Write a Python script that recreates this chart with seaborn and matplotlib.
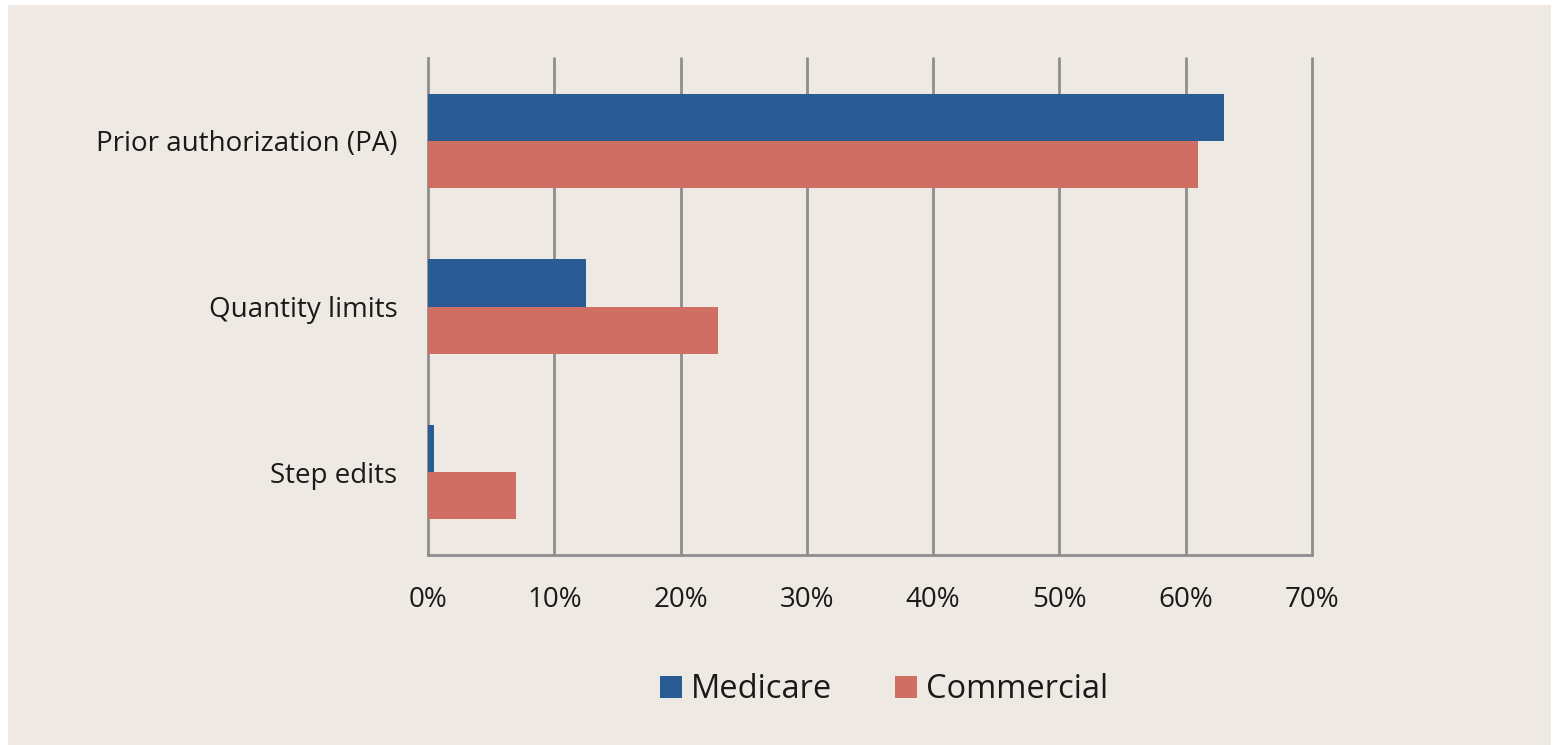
import matplotlib
matplotlib.use("Agg")
import matplotlib.pyplot as plt
import seaborn as sns
import pandas as pd
from matplotlib.patches import Rectangle
from matplotlib.ticker import FuncFormatter

categories = ["Prior authorization (PA)", "Quantity limits", "Step edits"]
series = ["Medicare", "Commercial"]
medicare = [63, 12.5, 0.5]
commercial = [61, 23, 7]
xticks = [0, 10, 20, 30, 40, 50, 60, 70]

colors = {"Medicare": "#2A5B94", "Commercial": "#CF6F64"}
bg = "#EFE9E3"
gridc = "#8E8E8E"

df = pd.DataFrame({
    "category": categories * 2,
    "series": ["Medicare"] * 3 + ["Commercial"] * 3,
    "value": medicare + commercial,
})

sns.set_theme(style="white")
plt.rcParams["font.family"] = ["Open Sans", "DejaVu Sans"]

fig = plt.figure(figsize=(15.53, 7.45), dpi=100, facecolor="white")
fig.patches.append(Rectangle((8 / 1553, 0), 1 - 10 / 1553, 1 - 5 / 745,
                             transform=fig.transFigure, facecolor=bg,
                             edgecolor="none", zorder=-10))
ax = fig.add_axes([428 / 1553, 1 - 555 / 745, 884 / 1553, 497 / 745])
ax.set_facecolor(bg)

sns.barplot(data=df, y="category", x="value", hue="series", order=categories,
            hue_order=series, palette=colors, orient="h", width=0.57,
            saturation=1, ax=ax, legend=True, zorder=3, linewidth=0)

ax.set_xlim(0, 70)
ax.set_ylim(2.5, -0.5)
ax.set_xticks(xticks)
ax.xaxis.set_major_formatter(FuncFormatter(lambda v, p: f"{int(v)}%"))
ax.grid(False)
for t in xticks[1:]:
    ax.axvline(t, color=gridc, linewidth=2, zorder=0, clip_on=False)
ax.set_axisbelow(True)
for s in ["top", "right"]:
    ax.spines[s].set_visible(False)
for s in ["left", "bottom"]:
    ax.spines[s].set_color(gridc)
    ax.spines[s].set_linewidth(2)
ax.tick_params(axis="x", length=0, pad=22, labelsize=20, colors="#1A1A1A")
ax.tick_params(axis="y", length=0, pad=22, labelsize=20, colors="#1A1A1A")
ax.set_xlabel("")
ax.set_ylabel("")

leg = ax.legend(loc="center", bbox_to_anchor=(884 / 1553, 1 - 690 / 745),
                bbox_transform=fig.transFigure, ncol=2, frameon=False,
                fontsize=23.5, handlelength=0.68, handleheight=0.68,
                handletextpad=0.28, columnspacing=1.9)
for h in leg.legend_handles:
    h.set_linewidth(0)
for t in leg.get_texts():
    t.set_color("#1A1A1A")

fig.savefig("out.png", dpi=100, facecolor="white")
